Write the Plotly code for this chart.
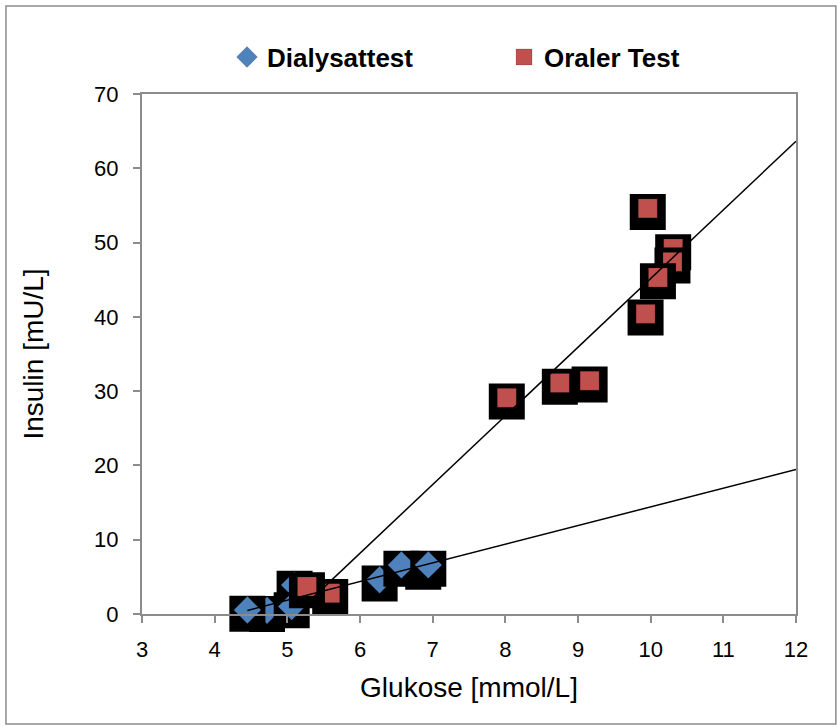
import numpy as np
import plotly.graph_objects as go

# ---- data ----
dial_x = [6.87, 4.72, 4.45, 5.10, 5.06, 6.27, 6.57, 6.94]
dial_y = [6.2, 0.5, 0.54, 3.9, 1.0, 4.6, 6.6, 6.6]

oral_x = [5.59, 5.27, 8.02, 8.75, 9.16, 9.93, 9.96, 10.31, 10.30, 10.10]
oral_y = [2.8, 3.7, 29.1, 31.1, 31.4, 40.4, 54.6, 49.2, 47.4, 45.3]

series_names = ["Dialysattest", "Oraler Test"]
x_ticks = [3, 4, 5, 6, 7, 8, 9, 10, 11, 12]
y_ticks = [0, 10, 20, 30, 40, 50, 60, 70]

BLUE = "#4F81BD"
RED = "#C0504D"
SHADOW_DY = 0.5  # drop-shadow offset in data units (~4 px)

fig = go.Figure()


def add_series(xs, ys, name, color, symbol, size):
    for i, (xv, yv) in enumerate(zip(xs, ys)):
        fig.add_trace(go.Scatter(
            x=[xv], y=[yv - SHADOW_DY], mode="markers", cliponaxis=False,
            marker=dict(symbol="square", size=36, color="black", line=dict(width=0)),
            showlegend=False, hoverinfo="skip"))
        fig.add_trace(go.Scatter(
            x=[xv], y=[yv], mode="markers", name=name, legendgroup=name,
            cliponaxis=False,
            marker=dict(symbol=symbol, size=size, color=color,
                        line=dict(width=0.6, color="rgba(0,0,0,0.25)")),
            showlegend=(i == 0)))


add_series(dial_x, dial_y, series_names[0], BLUE, "diamond", 21)
add_series(oral_x, oral_y, series_names[1], RED, "square", 19)

# linear trendlines (forecast forward to axis max)
for xs, ys in [(dial_x, dial_y), (oral_x, oral_y)]:
    m, b = np.polyfit(xs, ys, 1)
    lx = np.array([min(xs), x_ticks[-1]])
    fig.add_trace(go.Scatter(x=lx, y=m * lx + b, mode="lines", cliponaxis=False,
                             line=dict(color="black", width=1.5),
                             showlegend=False, hoverinfo="skip"))

axis_common = dict(
    showgrid=False, zeroline=False, showline=True, linecolor="#8c8c8c",
    linewidth=2, mirror=True, ticks="outside", ticklen=7, tickwidth=2,
    tickcolor="#8c8c8c", tickfont=dict(family="Liberation Sans, Arial", size=22, color="black"),
)

fig.update_layout(
    width=837, height=727,
    margin=dict(l=142, r=41, t=94, b=113),
    paper_bgcolor="white", plot_bgcolor="white",
    font=dict(family="Liberation Sans, Arial", color="black"),
    xaxis=dict(range=[3, 12], tickvals=x_ticks, ticklabelstandoff=8,
               title=dict(text="Glukose [mmol/L]", font=dict(size=28), standoff=16),
               **axis_common),
    yaxis=dict(range=[0, 70], tickvals=y_ticks, ticklabelstandoff=10,
               title=dict(text="Insulin [mU/L]", font=dict(size=28), standoff=42),
               **axis_common),
    legend=dict(orientation="h", x=0.13, xanchor="left", y=1.071, yanchor="middle",
                font=dict(family="Liberation Sans, Arial", size=26, color="black", weight="bold"),
                entrywidth=232, entrywidthmode="pixels", bgcolor="rgba(0,0,0,0)",
                itemclick=False),
    shapes=[dict(type="rect", xref="paper", yref="paper",
                 x0=-0.208, x1=1.061, y0=-0.2115, y1=1.169,
                 line=dict(color="#8c8c8c", width=1.5), layer="below")],
)

fig.write_html("out.html")
